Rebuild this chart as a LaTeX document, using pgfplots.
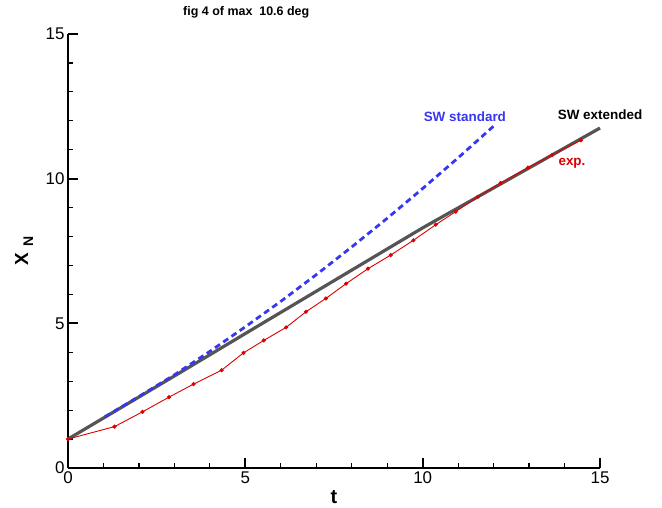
\documentclass[border=0pt]{standalone}
\usepackage{pgfplots}
\pgfplotsset{compat=1.18}
\usepackage{fontspec}
\setmainfont{Liberation Sans}
\definecolor{swblue}{RGB}{55,55,240}
\definecolor{swgray}{RGB}{85,85,85}
\definecolor{expred}{RGB}{220,0,0}
\begin{document}
\begin{tikzpicture}
\useasboundingbox (-68bp,-40bp) rectangle (594bp,468bp);
\begin{axis}[
  at={(0,0)}, anchor=south west,
  scale only axis, width=532bp, height=434bp,
  xmin=0, xmax=15, ymin=0, ymax=15,
  axis x line=bottom, axis y line=left,
  axis line style={-, line width=2.4bp, black},
  xtick={0,5,10,15}, ytick={0,5,10,15},
  minor xtick={1,2,3,4,6,7,8,9,11,12,13,14},
  minor ytick={1,2,3,4,6,7,8,9,11,12,13,14},
  tick align=inside,
  major tick length=10bp, minor tick length=5bp,
  major tick style={line width=2bp, black},
  minor tick style={line width=1.2bp, black},
  tick label style={font=\fontsize{17}{17}\selectfont},
  /pgf/number format/assume math mode=true,
  every axis x label/.style={at={(axis description cs:0.5,0)}, anchor=center, yshift=-29bp},
  every axis y label/.style={at={(axis description cs:-0.0827,0.5)}, rotate=90, anchor=center},
  xlabel={\fontsize{20}{20}\selectfont\bfseries t},
  ylabel={\fontsize{19}{19}\selectfont\bfseries X\hspace{6bp}\raisebox{-5bp}{\fontsize{14}{14}\selectfont N}},
  clip=false,
]
\addplot[swgray, line width=3.2bp] coordinates {
(0,1.0) (3,3.18) (5.4,4.94) (10,8.3) (15,11.75)
};
\addplot[swblue, line width=2.8bp, dash pattern=on 6bp off 4bp] coordinates {
(1.04,1.77) (2,2.47) (3,3.22) (4,4.03) (5,4.88) (6,5.76) (7,6.68) (8,7.64) (9,8.63) (10,9.66) (11,10.72) (12.04,11.86)
};
\addplot[expred, line width=0.9bp, mark=*, mark size=1.6bp] coordinates {
(0,1.0) (1.31,1.43) (2.10,1.94) (2.85,2.45) (3.54,2.90) (4.33,3.38) (4.95,3.98) (5.52,4.41) (6.15,4.86) (6.71,5.40) (7.27,5.86) (7.84,6.37) (8.46,6.89) (9.10,7.36) (9.74,7.87) (10.37,8.41) (10.93,8.86) (11.55,9.37) (12.20,9.85) (12.97,10.38) (13.65,10.82) (14.46,11.33)
};
\node[swblue, font=\bfseries\fontsize{13.5}{13.5}\selectfont] at (axis cs:11.19,12.13) {SW standard};
\node[black, font=\bfseries\fontsize{13.5}{13.5}\selectfont] at (axis cs:15.0,12.2) {SW extended};
\node[expred, font=\bfseries\fontsize{13.5}{13.5}\selectfont] at (axis cs:14.21,10.54) {exp.};
\node[font=\bfseries\fontsize{12.5}{12.5}\selectfont] at (axis description cs:0.335,1.051) {fig 4 of max\ \ 10.6 deg};
\end{axis}
\end{tikzpicture}
\end{document}
